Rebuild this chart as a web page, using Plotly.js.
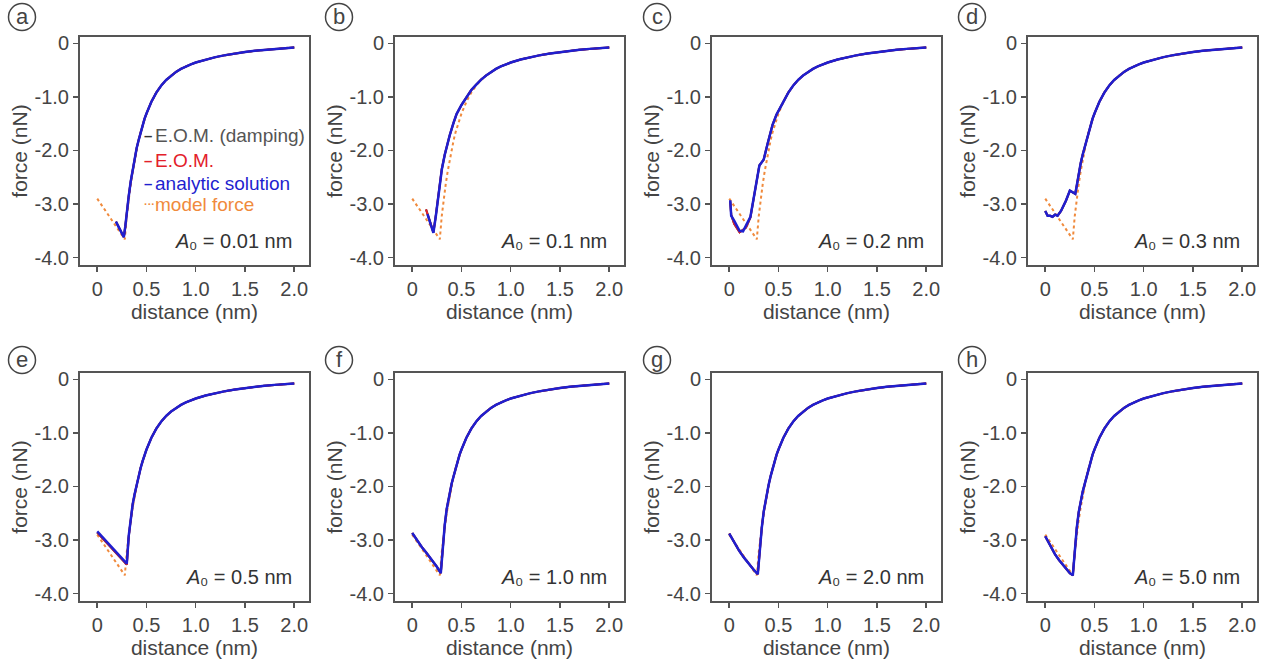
<!DOCTYPE html>
<html><head><meta charset="utf-8">
<script src="https://cdn.plot.ly/plotly-3.0.1.min.js"></script>
<style>html,body{margin:0;padding:0;background:#fff;} #chart{width:1278px;height:661px;}</style>
</head><body><div id="chart"></div>
<script>
// ---------- data ----------
const xTickVals = [0, 0.5, 1.0, 1.5, 2.0];
const xTickText = ["0", "0.5", "1.0", "1.5", "2.0"];
const yTickVals = [0, -1, -2, -3, -4];
const yTickText = ["0", "-1.0", "-2.0", "-3.0", "-4.0"];

const panelLetters = ["a", "b", "c", "d", "e", "f", "g", "h"];
const amplitudes = ["0.01", "0.1", "0.2", "0.3", "0.5", "1.0", "2.0", "5.0"];
const seriesNames = ["E.O.M. (damping)", "E.O.M.", "analytic solution", "model force"];

// model force, near part (x <= 0.40 nm)
const modelNearX = [0, 0.14, 0.28, 0.30, 0.32, 0.34, 0.36, 0.38, 0.40];
const modelNearF = [-2.90, -3.28, -3.66, -3.22, -2.90, -2.63, -2.39, -2.17, -1.98];
// shared middle part 0.42 - 0.70 nm (model and most simulated curves)
const midX = [0.42, 0.44, 0.46, 0.48, 0.50, 0.55, 0.60, 0.65, 0.70];
const midF = [-1.81, -1.66, -1.53, -1.41, -1.31, -1.089, -0.918, -0.787, -0.682];
// shared far tail 0.75 - 2.0 nm
const tailX = [0.75, 0.80, 0.85, 0.90, 0.95, 1.00, 1.10, 1.20, 1.30, 1.40, 1.50, 1.60, 1.70, 1.80, 1.90, 2.00];
const tailF = [-0.600, -0.532, -0.476, -0.430, -0.391, -0.357, -0.301, -0.256, -0.219, -0.187, -0.161, -0.138, -0.119, -0.102, -0.088, -0.075];

// (a) A0 = 0.01 nm, up to 0.40 nm
const aX = [0.19, 0.22, 0.25, 0.27, 0.285, 0.30, 0.32, 0.34, 0.36, 0.38, 0.40];
const aF = [-3.33, -3.44, -3.55, -3.62, -3.42, -3.12, -2.85, -2.58, -2.35, -2.14, -1.96];
// (b) A0 = 0.1 nm, up to 0.70 nm
const bX = [0.155, 0.18, 0.20, 0.215, 0.24, 0.27, 0.30, 0.33, 0.36, 0.38, 0.42, 0.45, 0.50, 0.55, 0.60, 0.65, 0.70];
const bF = [-3.19, -3.34, -3.46, -3.54, -3.22, -2.80, -2.36, -2.08, -1.86, -1.72, -1.48, -1.32, -1.15, -1.00, -0.87, -0.77, -0.675];
const bEomX = [0.14, 0.17, 0.195, 0.215, 0.24, 0.27, 0.30, 0.33, 0.36, 0.38, 0.42, 0.45, 0.50, 0.55, 0.60, 0.65, 0.70];
const bEomF = [-3.10, -3.28, -3.44, -3.53, -3.21, -2.79, -2.35, -2.08, -1.86, -1.72, -1.48, -1.32, -1.15, -1.00, -0.87, -0.77, -0.675];
// (c) A0 = 0.2 nm, up to 0.70 nm
const cX = [0.01, 0.02, 0.05, 0.08, 0.105, 0.14, 0.17, 0.215, 0.256, 0.28, 0.306, 0.33, 0.35, 0.39, 0.44, 0.48, 0.52, 0.55, 0.60, 0.65, 0.70];
const cF = [-2.93, -3.22, -3.31, -3.42, -3.50, -3.51, -3.41, -3.24, -2.81, -2.55, -2.28, -2.22, -2.17, -1.87, -1.52, -1.33, -1.19, -1.089, -0.918, -0.787, -0.682];
const cEomX = [0.01, 0.02, 0.05, 0.08, 0.105, 0.14, 0.17, 0.215, 0.256, 0.28, 0.306, 0.33, 0.35, 0.39, 0.44, 0.48, 0.52, 0.55, 0.60, 0.65, 0.70];
const cEomF = [-2.95, -3.20, -3.37, -3.47, -3.53, -3.48, -3.44, -3.25, -2.82, -2.55, -2.28, -2.22, -2.17, -1.87, -1.52, -1.33, -1.19, -1.089, -0.918, -0.787, -0.682];
// (d) A0 = 0.3 nm, up to 0.40 nm
const dX = [0.0, 0.024, 0.05, 0.074, 0.10, 0.125, 0.16, 0.21, 0.25, 0.28, 0.305, 0.32, 0.34, 0.36, 0.38, 0.40];
const dF = [-3.13, -3.22, -3.22, -3.24, -3.20, -3.22, -3.13, -2.94, -2.75, -2.78, -2.81, -2.66, -2.42, -2.24, -2.08, -1.94];
// (e) A0 = 0.5 nm, up to 0.40 nm
const eX = [0, 0.03, 0.06, 0.09, 0.12, 0.15, 0.18, 0.21, 0.24, 0.27, 0.30, 0.32, 0.34, 0.36, 0.38, 0.40];
const eF = [-2.84, -2.90, -2.95, -3.03, -3.07, -3.15, -3.19, -3.27, -3.31, -3.39, -3.44, -2.92, -2.58, -2.33, -2.14, -1.96];
const eEomX = [0, 0.03, 0.06, 0.09, 0.12, 0.15, 0.18, 0.21, 0.24, 0.27, 0.30, 0.32, 0.34, 0.36, 0.38, 0.40];
const eEomF = [-2.86, -2.92, -2.99, -3.05, -3.11, -3.17, -3.23, -3.29, -3.35, -3.41, -3.46, -2.93, -2.58, -2.33, -2.14, -1.96];
// (f) A0 = 1.0 nm, up to 0.40 nm
const fX = [0, 0.05, 0.10, 0.14, 0.20, 0.25, 0.29, 0.31, 0.33, 0.35, 0.37, 0.40];
const fF = [-2.87, -3.01, -3.14, -3.23, -3.37, -3.50, -3.62, -3.10, -2.72, -2.42, -2.20, -1.95];
// (g) A0 = 2.0 nm, up to 0.40 nm
const gX = [0, 0.05, 0.10, 0.15, 0.20, 0.25, 0.29, 0.31, 0.33, 0.35, 0.37, 0.40];
const gF = [-2.88, -3.05, -3.20, -3.33, -3.45, -3.56, -3.64, -3.15, -2.78, -2.47, -2.24, -1.97];
// (h) A0 = 5.0 nm, up to 0.40 nm
const hX = [0, 0.05, 0.10, 0.14, 0.20, 0.25, 0.28, 0.30, 0.32, 0.34, 0.36, 0.38, 0.40];
const hF = [-2.93, -3.10, -3.27, -3.375, -3.52, -3.62, -3.66, -3.15, -2.78, -2.48, -2.26, -2.10, -1.96];

// ---------- assembling ----------
const withMid = (x, f) => [x.concat(midX, tailX), f.concat(midF, tailF)];
const withTail = (x, f) => [x.concat(tailX), f.concat(tailF)];
const model = withMid(modelNearX, modelNearF);
const analytic = [withMid(aX, aF), withTail(bX, bF), withTail(cX, cF), withMid(dX, dF),
                  withMid(eX, eF), withMid(fX, fF), withMid(gX, gF), withMid(hX, hF)];
const eom = [withMid(aX, aF), withTail(bEomX, bEomF), withTail(cEomX, cEomF), withMid(dX, dF),
             withMid(eEomX, eEomF), withMid(fX, fF), withMid(gX, gF), withMid(hX, hF)];

const W = 1278, H = 661;
const colLeft = [80, 395, 712, 1028], plotW = 229;
const rowTop = [37, 373], plotH = 228;
const circleCX = [22, 339, 657, 972], circleCY = [17, 360];

const textGray = '#444';
const axisGray = '#555';
const font = 'Liberation Sans, Arial, Helvetica, sans-serif';
const colDamp = '#333333', colEom = '#e3202a', colAna = '#1f1fcf', colModel = '#f08a3c';

// text width helper (for placing the italic "A" before the rest of the label)
const cvs = document.createElement('canvas').getContext('2d');
function textWidth(str, size) { cvs.font = size + 'px "Liberation Sans", Arial, sans-serif'; return cvs.measureText(str).width; }

const traces = [];
const layout = {
  width: W, height: H,
  margin: {l: 0, r: 0, t: 0, b: 0},
  paper_bgcolor: '#fff', plot_bgcolor: '#fff',
  showlegend: false, hovermode: false,
  font: {family: font, color: textGray, size: 19},
  annotations: [], shapes: []
};

for (let i = 0; i < 8; i++) {
  const s = i === 0 ? '' : String(i + 1);
  const xa = 'x' + s, ya = 'y' + s;
  const col = i % 4, row = Math.floor(i / 4);
  const l = colLeft[col], t = rowTop[row];
  const axCommon = {
    showline: true, mirror: true, linecolor: axisGray, linewidth: 2,
    ticks: 'outside', ticklen: 5, tickwidth: 1.5, tickcolor: axisGray,
    showgrid: false, zeroline: false, fixedrange: true,
    tickfont: {family: font, size: 20, color: textGray}
  };
  layout['xaxis' + s] = Object.assign({}, axCommon, {
    domain: [l / W, (l + plotW) / W], anchor: ya, range: [-0.175, 2.15],
    tickmode: 'array', tickvals: xTickVals, ticktext: xTickText,
    title: {text: 'distance (nm)', font: {family: font, size: 21, color: textGray}, standoff: 0}
  });
  layout['yaxis' + s] = Object.assign({}, axCommon, {
    domain: [1 - (t + plotH) / H, 1 - t / H], anchor: xa, range: [-4.14, 0.12],
    tickmode: 'array', tickvals: yTickVals, ticktext: yTickText,
    title: {text: 'force (nN)', font: {family: font, size: 21, color: textGray}, standoff: 1}
  });

  traces.push({x: model[0], y: model[1], xaxis: xa, yaxis: ya, mode: 'lines', name: seriesNames[3],
    line: {color: colModel, width: 2, dash: 'dot'}});
  traces.push({x: eom[i][0], y: eom[i][1], xaxis: xa, yaxis: ya, mode: 'lines', name: seriesNames[0],
    line: {color: colDamp, width: 2}});
  traces.push({x: eom[i][0], y: eom[i][1], xaxis: xa, yaxis: ya, mode: 'lines', name: seriesNames[1],
    line: {color: colEom, width: 2}});
  traces.push({x: analytic[i][0], y: analytic[i][1], xaxis: xa, yaxis: ya, mode: 'lines', name: seriesNames[2],
    line: {color: colAna, width: 2.5}});

  // amplitude label: italic "A" + "₀ = ... nm"
  const rest = '\u2080 = ' + amplitudes[i] + ' nm';
  layout.annotations.push({
    xref: xa, yref: ya, x: 2.0, y: -3.70, xanchor: 'right', yanchor: 'middle', showarrow: false,
    text: rest, font: {family: font, size: 20, color: '#333'}
  });
  layout.annotations.push({
    xref: xa, yref: ya, x: 2.0, y: -3.70, xanchor: 'right', yanchor: 'middle', showarrow: false,
    xshift: -textWidth(rest, 20), text: 'A', font: {family: font, size: 20, color: '#333', style: 'italic'}
  });
  // panel letter in a circle
  const cx = circleCX[col], cy = circleCY[row], r = 13.5;
  layout.shapes.push({type: 'circle', xref: 'paper', yref: 'paper',
    x0: (cx - r) / W, x1: (cx + r) / W, y0: 1 - (cy + r) / H, y1: 1 - (cy - r) / H,
    line: {color: textGray, width: 1.5}});
  layout.annotations.push({xref: 'paper', yref: 'paper', x: cx / W, y: 1 - (cy - 1) / H,
    xanchor: 'center', yanchor: 'middle', showarrow: false, text: panelLetters[i],
    font: {family: font, size: 22, color: textGray}});
}

// legend (inside panel a): short marker + coloured text
const legendY = [135, 161, 183, 204];
const legendMark = ['–', '–', '–', '···'];
const legendMarkColor = [colDamp, colEom, colAna, colModel];
const legendMarkSize = [15, 15, 15, 11];
const legendColor = ['#555', colEom, colAna, colModel];
for (let k = 0; k < 4; k++) {
  layout.annotations.push({xref: 'paper', yref: 'paper', x: 142 / W, y: 1 - legendY[k] / H,
    xanchor: 'left', yanchor: 'middle', showarrow: false, text: legendMark[k],
    font: {family: font, size: legendMarkSize[k], color: legendMarkColor[k], weight: 'bold'}});
  layout.annotations.push({xref: 'paper', yref: 'paper', x: 153 / W, y: 1 - legendY[k] / H,
    xanchor: 'left', yanchor: 'middle', showarrow: false, text: seriesNames[k],
    font: {family: font, size: 19, color: legendColor[k]}});
}

Plotly.newPlot('chart', traces, layout, {staticPlot: true, displayModeBar: false});
</script></body></html>
